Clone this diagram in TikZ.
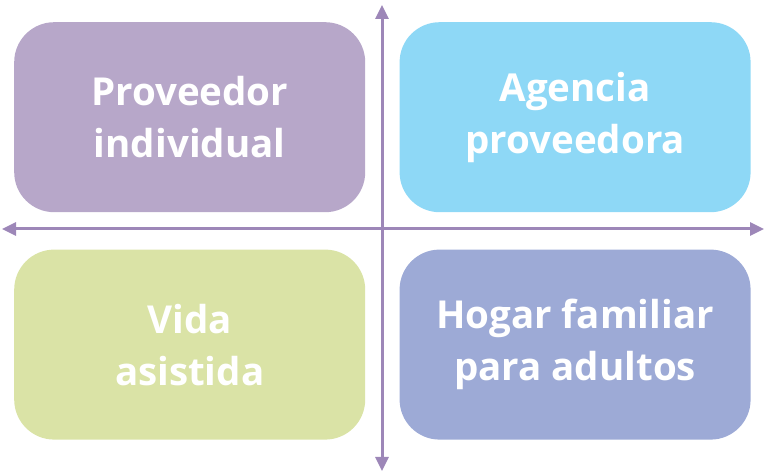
\documentclass[tikz,border=0pt]{standalone}
\usepackage{fontspec}
\setmainfont{Open Sans}
\usetikzlibrary{positioning, arrows.meta}

\definecolor{lila}{HTML}{B7A7C9}
\definecolor{celeste}{HTML}{8ED8F6}
\definecolor{verde}{HTML}{DAE3A6}
\definecolor{azul}{HTML}{9DAAD6}
\definecolor{eje}{HTML}{9D87B8}

\tikzset{
    box/.style={rectangle, rounded corners=40pt, minimum width=351pt, minimum height=190pt,
        inner sep=0pt, text=white, align=center, font=\bfseries\fontsize{38.5}{52}\selectfont},
    axis/.style={draw=eje, line width=3pt, {Triangle[length=14pt,width=13pt]}-{Triangle[length=14pt,width=13pt]}}
}

\begin{document}
\begin{tikzpicture}[x=1pt, y=1pt, node distance=37pt and 34pt]
        \useasboundingbox (0,0) rectangle (764,474);

        % Nodes
        \node (indiv) [box, fill=lila, anchor=north west] at (14,452) {Proveedor\\individual};
        \node (agencia) [box, fill=celeste, right=of indiv] {Agencia\\proveedora};
        \node (vida) [box, fill=verde, below=of indiv] {Vida\\asistida};
        \node (hogar) [box, fill=azul, below=of agencia] {Hogar familiar\\para adultos};

        % Axes
        \coordinate (top) at (382,469);
        \coordinate (bottom) at (382,3);
        \coordinate (left) at (2,245);
        \coordinate (right) at (764,245);
        \draw[axis] (left) -- (right);
        \draw[axis] (bottom) -- (top);
    \end{tikzpicture}
\end{document}
